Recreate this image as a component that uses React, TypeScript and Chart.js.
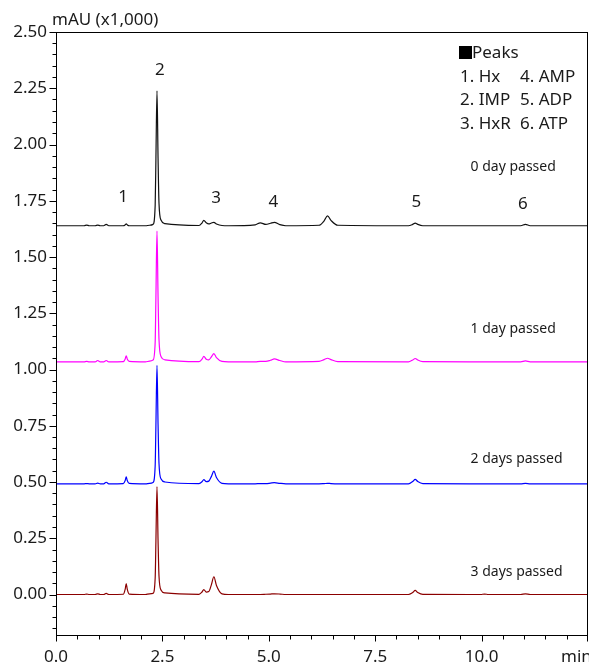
import React, { useEffect, useRef } from 'react';
import { Chart, registerables } from 'chart.js';

Chart.register(...registerables);

// Retention times (min) of the sampled points of the chromatograms
const times = [
  0.0,
  0.66, 0.72, 0.78,
  0.92, 0.98, 1.04,
  1.12, 1.18, 1.24,
  1.58, 1.626, 1.65, 1.674, 1.72,
  2.1, 2.2,
  2.28, 2.33, 2.348, 2.373, 2.398, 2.42, 2.47, 2.56,
  3.36, 3.43, 3.473, 3.53, 3.59, 3.65, 3.71, 3.77, 3.9,
  4.05,
  4.68, 4.8, 4.93, 5.04, 5.13, 5.26, 5.4,
  6.18, 6.3, 6.38, 6.46, 6.62,
  8.28, 8.38, 8.44, 8.5, 8.62,
  9.98, 10.07, 10.16,
  10.92, 11.03, 11.14,
  12.5,
];

// Signal above each trace's baseline (mAU x1,000)
const day0 = [
  0,
  0, 0.003, 0,
  0, 0.003, 0,
  0, 0.006, 0,
  0, 0.004, 0.008, 0.004, 0,
  0, 0.002,
  0.006, 0.09, 0.3, 0.599, 0.3, 0.1, 0.024, 0.009,
  0.001, 0.012, 0.024, 0.013, 0.008, 0.012, 0.015, 0.008, 0.001,
  0,
  0.004, 0.013, 0.006, 0.011, 0.015, 0.005, 0,
  0.002, 0.022, 0.044, 0.024, 0.002,
  0, 0.006, 0.012, 0.006, 0,
  0, 0, 0,
  0, 0.006, 0,
  0,
];
const day1 = [
  0,
  0, 0.002, 0,
  0, 0.006, 0,
  0, 0.006, 0,
  0.001, 0.013, 0.027, 0.013, 0.002,
  0, 0.003,
  0.008, 0.087, 0.29, 0.581, 0.29, 0.099, 0.023, 0.009,
  0.001, 0.012, 0.024, 0.012, 0.009, 0.022, 0.037, 0.019, 0.002,
  0,
  0, 0.002, 0.002, 0.007, 0.013, 0.006, 0,
  0.002, 0.01, 0.016, 0.01, 0.001,
  0, 0.008, 0.015, 0.008, 0.001,
  0, 0, 0,
  0, 0.004, 0,
  0,
];
const day2 = [
  0,
  0, 0.001, 0,
  0, 0.003, 0,
  0, 0.007, 0,
  0.001, 0.015, 0.031, 0.015, 0.002,
  0, 0.002,
  0.006, 0.079, 0.264, 0.527, 0.264, 0.09, 0.021, 0.008,
  0.001, 0.009, 0.019, 0.01, 0.012, 0.032, 0.056, 0.028, 0.002,
  0,
  0, 0.001, 0.001, 0.003, 0.005, 0.002, 0,
  0, 0.001, 0.002, 0.001, 0,
  0, 0.01, 0.02, 0.01, 0.001,
  0, 0, 0,
  0, 0.002, 0,
  0,
];
const day3 = [
  0,
  0, 0.002, 0,
  0, 0.003, 0,
  0, 0.005, 0,
  0.001, 0.024, 0.049, 0.024, 0.002,
  0, 0.003,
  0.005, 0.072, 0.24, 0.48, 0.24, 0.082, 0.019, 0.007,
  0.001, 0.011, 0.022, 0.011, 0.013, 0.043, 0.079, 0.04, 0.003,
  0,
  0, 0, 0.001, 0.002, 0.003, 0.002, 0,
  0, 0, 0, 0, 0,
  0, 0.009, 0.018, 0.009, 0.001,
  0, 0.002, 0,
  0, 0.003, 0,
  0,
];

const baselines = [1.639, 1.034, 0.492, 0.0];
const traceNames = ['0 day passed', '1 day passed', '2 days passed', '3 days passed'];
const traceColors = ['#111111', '#ff00ff', '#0000ff', '#8b0000'];

const xTickValues = [0, 2.5, 5, 7.5, 10, 12.5];
const xTickLabels = ['0.0', '2.5', '5.0', '7.5', '10.0', ''];
const yTickValues = [0, 0.25, 0.5, 0.75, 1.0, 1.25, 1.5, 1.75, 2.0, 2.25, 2.5];
const yTickLabels = ['0.00', '0.25', '0.50', '0.75', '1.00', '1.25', '1.50', '1.75', '2.00', '2.25', '2.50'];

const peakNumbers = ['1', '2', '3', '4', '5', '6'];
const peakNames = ['Hx', 'IMP', 'HxR', 'AMP', 'ADP', 'ATP'];

const FONT = '"Noto Sans", "DejaVu Sans", sans-serif';
const TEXT = '#1a1a1a';

const decorPlugin = {
  id: 'decor',
  afterDraw(chart: any) {
    const { ctx, chartArea: a, scales } = chart;
    const xs = scales.x;
    const ys = scales.y;
    const L = Math.round(a.left) + 0.5;
    const T = Math.round(a.top) + 0.5;
    const R = Math.round(a.right) - 0.5;
    const B = Math.round(a.bottom) + 0.5;
    ctx.save();
    ctx.strokeStyle = '#000';
    ctx.lineWidth = 1;
    ctx.strokeRect(L, T, R - L, B - T);

    // y ticks
    ctx.beginPath();
    for (let i = -3; i <= 50; i++) {
      const v = i * 0.05;
      if (v < ys.min - 1e-9 || v > ys.max + 1e-9) continue;
      const py = Math.round(ys.getPixelForValue(v)) + 0.5;
      const major = i % 5 === 0;
      ctx.moveTo(L - (major ? 7 : 4), py);
      ctx.lineTo(L, py);
    }
    // x ticks
    for (let i = 0; i <= 25; i++) {
      const v = i * 0.5;
      const px = Math.round(xs.getPixelForValue(v)) + 0.5;
      const major = i % 5 === 0;
      ctx.moveTo(Math.min(px, R), B);
      ctx.lineTo(Math.min(px, R), B + (major ? 6 : 4));
    }
    ctx.stroke();

    ctx.fillStyle = TEXT;
    ctx.textBaseline = 'middle';

    // axis titles
    ctx.font = `17px ${FONT}`;
    ctx.textAlign = 'left';
    ctx.fillText('mAU (x1,000)', 52, 20);
    ctx.fillText('min', 561, 657);

    // peak numbers
    const peakPos = [
      [1.574, 1.765],
      [2.44, 2.331],
      [3.764, 1.761],
      [5.11, 1.745],
      [8.47, 1.745],
      [10.97, 1.734],
    ];
    ctx.textAlign = 'center';
    ctx.font = `17px ${FONT}`;
    peakNumbers.forEach((n, i) => {
      ctx.fillText(n, xs.getPixelForValue(peakPos[i][0]), ys.getPixelForValue(peakPos[i][1]));
    });

    // trace names
    const namePos = [1.901, 1.181, 0.604, 0.102];
    ctx.textAlign = 'left';
    ctx.font = `14px ${FONT}`;
    traceNames.forEach((n, i) => {
      ctx.fillText(n, xs.getPixelForValue(9.74), ys.getPixelForValue(namePos[i]));
    });

    // legend box
    ctx.font = `17px ${FONT}`;
    ctx.fillStyle = '#000';
    ctx.fillRect(459, 46, 13, 13);
    ctx.fillStyle = TEXT;
    ctx.fillText('Peaks', 472, 53);
    const rowY = [77, 100, 124];
    for (let r = 0; r < 3; r++) {
      ctx.fillText(`${r + 1}. ${peakNames[r]}`, 460, rowY[r]);
      ctx.fillText(`${r + 4}. ${peakNames[r + 3]}`, 520, rowY[r]);
    }
    ctx.restore();
  },
};

export default function App() {
  const ref = useRef<HTMLCanvasElement | null>(null);

  useEffect(() => {
    if (!ref.current) return;
    const series = [day0, day1, day2, day3];
    const datasets = series.map((s, k) => ({
      label: traceNames[k],
      data: times.map((t, i) => ({ x: t, y: baselines[k] + s[i] })),
      borderColor: traceColors[k],
      borderWidth: 1.2,
      pointRadius: 0,
      fill: false,
      cubicInterpolationMode: 'monotone' as const,
    }));
    const chart = new Chart(ref.current, {
      type: 'line',
      data: { datasets },
      options: {
        animation: false,
        responsive: false,
        devicePixelRatio: 1,
        parsing: false,
        layout: { padding: { top: 32, right: 1, left: 0, bottom: 0 } },
        plugins: { legend: { display: false }, tooltip: { enabled: false } },
        scales: {
          x: {
            type: 'linear',
            min: 0,
            max: 12.5,
            grid: { display: false, drawTicks: false },
            border: { display: false },
            afterBuildTicks: (s: any) => {
              s.ticks = xTickValues.map((v) => ({ value: v }));
            },
            afterFit: (s: any) => {
              s.height = 27;
              s.paddingLeft = 0;
              s.paddingRight = 0;
            },
            ticks: {
              padding: 12,
              autoSkip: false,
              maxRotation: 0,
              color: TEXT,
              font: { family: FONT, size: 17 },
              callback: (v: any) => {
                const i = xTickValues.indexOf(Number(v));
                return i >= 0 ? xTickLabels[i] : '';
              },
            },
          },
          y: {
            type: 'linear',
            min: -0.18,
            max: 2.5,
            grid: { display: false, drawTicks: false },
            border: { display: false },
            afterBuildTicks: (s: any) => {
              s.ticks = yTickValues.map((v) => ({ value: v }));
            },
            afterFit: (s: any) => {
              s.width = 56;
              s.paddingTop = 0;
              s.paddingBottom = 0;
            },
            ticks: {
              padding: 9,
              autoSkip: false,
              color: TEXT,
              font: { family: FONT, size: 17 },
              callback: (v: any) => {
                const i = yTickValues.findIndex((t) => Math.abs(t - Number(v)) < 1e-6);
                return i >= 0 ? yTickLabels[i] : '';
              },
            },
          },
        },
      },
      plugins: [decorPlugin],
    });
    return () => chart.destroy();
  }, []);

  return (
    <div style={{ position: 'fixed', left: 0, top: 0, width: 589, height: 662, background: '#fff' }}>
      <canvas ref={ref} width={589} height={662} style={{ display: 'block' }} />
    </div>
  );
}
